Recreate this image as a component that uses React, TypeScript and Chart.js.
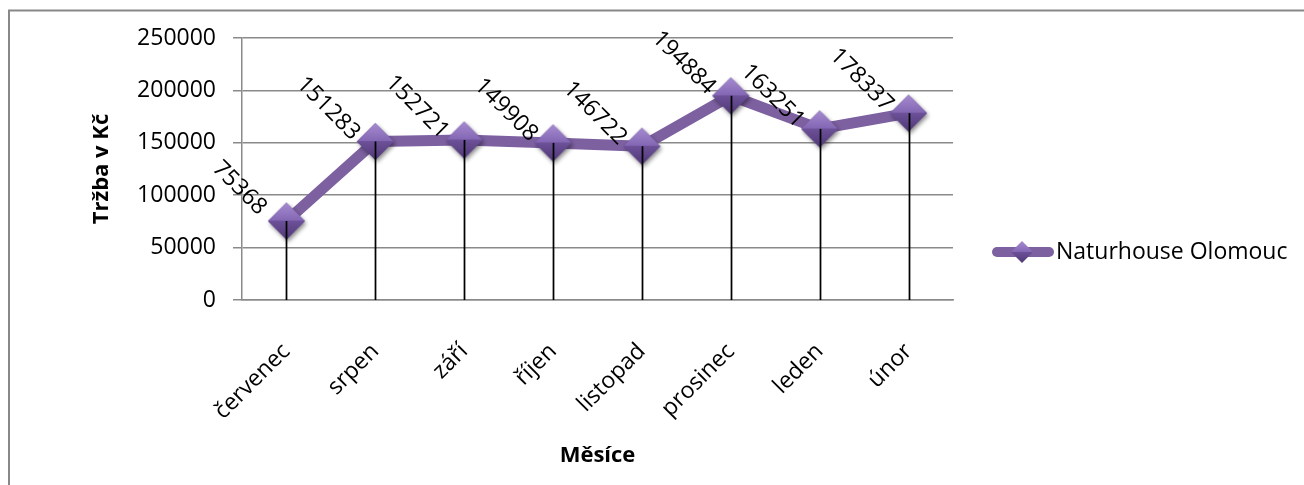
import { useEffect, useRef } from "react";
import { Chart, registerables } from "chart.js";

Chart.register(...registerables);

// Monthly revenue of the shop
const months = ["červenec", "srpen", "září", "říjen", "listopad", "prosinec", "leden", "únor"];
const revenue = [75368, 151283, 152721, 149908, 146722, 194884, 163251, 178337];
const revenueTicks = [0, 50000, 100000, 150000, 200000, 250000];
const seriesName = "Naturhouse Olomouc";
const yTitle = "Tržba v Kč";
const xTitle = "Měsíce";

const PURPLE = "#7D60A0";
const GRID = "#8a8a8a";
const FONT = "'Open Sans', sans-serif";

// Bevelled diamond marker, rendered once and used as the point style
function makeDiamond(r: number, shadow: boolean): HTMLCanvasElement {
  const pad = 6;
  const size = Math.ceil(2 * r + 2 * pad);
  const c = document.createElement("canvas");
  c.width = size;
  c.height = size;
  const g = c.getContext("2d")!;
  const cx = size / 2;
  const cy = size / 2;
  if (shadow) {
    g.save();
    g.shadowColor = "rgba(0,0,0,0.45)";
    g.shadowBlur = 4;
    g.shadowOffsetX = 1.5;
    g.shadowOffsetY = 2.5;
    g.beginPath();
    g.moveTo(cx, cy - r);
    g.lineTo(cx + r, cy);
    g.lineTo(cx, cy + r);
    g.lineTo(cx - r, cy);
    g.closePath();
    g.fillStyle = "#5b4282";
    g.fill();
    g.restore();
  }
  let grad = g.createLinearGradient(0, cy - r, 0, cy);
  grad.addColorStop(0, "#a68bd1");
  grad.addColorStop(1, "#8366b3");
  g.beginPath();
  g.moveTo(cx, cy - r);
  g.lineTo(cx + r, cy);
  g.lineTo(cx - r, cy);
  g.closePath();
  g.fillStyle = grad;
  g.fill();
  grad = g.createLinearGradient(0, cy, 0, cy + r);
  grad.addColorStop(0, "#6d5199");
  grad.addColorStop(1, "#503877");
  g.beginPath();
  g.moveTo(cx - r, cy);
  g.lineTo(cx + r, cy);
  g.lineTo(cx, cy + r);
  g.closePath();
  g.fillStyle = grad;
  g.fill();
  return c;
}

export default function App() {
  const ref = useRef<HTMLCanvasElement | null>(null);

  useEffect(() => {
    let chart: Chart | null = null;
    let cancelled = false;

    const build = () => {
      if (cancelled || !ref.current) return;
      const marker = makeDiamond(18.5, true);
      const legendMarker = makeDiamond(11, false);

      const decor = {
        id: "decor",
        beforeDraw(c: any) {
          const ctx = c.ctx;
          ctx.save();
          ctx.fillStyle = "#ffffff";
          ctx.fillRect(0, 0, c.width, c.height);
          ctx.strokeStyle = "#888888";
          ctx.lineWidth = 2;
          ctx.strokeRect(9, 10.5, c.width + 40, c.height + 40);
          ctx.restore();
        },
        afterDatasetsDraw(c: any) {
          const ctx = c.ctx;
          const meta = c.getDatasetMeta(0);
          const bottom = c.chartArea.bottom;
          ctx.save();
          // drop lines from each point down to the category axis
          ctx.strokeStyle = "#000000";
          ctx.lineWidth = 1.75;
          meta.data.forEach((p: any) => {
            ctx.beginPath();
            ctx.moveTo(Math.round(p.x) + 0.5, p.y);
            ctx.lineTo(Math.round(p.x) + 0.5, bottom);
            ctx.stroke();
          });
          // rotated value labels
          ctx.fillStyle = "#000000";
          ctx.font = `23px ${FONT}`;
          ctx.textAlign = "center";
          ctx.textBaseline = "middle";
          meta.data.forEach((p: any, i: number) => {
            ctx.save();
            ctx.translate(p.x - 47, p.y - 33);
            ctx.rotate(Math.PI / 4);
            ctx.fillText(String(revenue[i]), 0, 0);
            ctx.restore();
          });
          ctx.restore();
        },
        afterDraw(c: any) {
          const ctx = c.ctx;
          const ly = 252;
          ctx.save();
          ctx.strokeStyle = PURPLE;
          ctx.lineWidth = 10;
          ctx.lineCap = "round";
          ctx.beginPath();
          ctx.moveTo(997, ly);
          ctx.lineTo(1049, ly);
          ctx.stroke();
          ctx.drawImage(legendMarker, 1022 - legendMarker.width / 2, ly - legendMarker.height / 2);
          ctx.fillStyle = "#000000";
          ctx.font = `23px ${FONT}`;
          ctx.textAlign = "left";
          ctx.textBaseline = "middle";
          ctx.fillText(seriesName, 1056, ly);
          ctx.restore();
        },
      };

      chart = new Chart(ref.current, {
        type: "line",
        data: {
          labels: months,
          datasets: [
            {
              label: seriesName,
              data: revenue,
              borderColor: PURPLE,
              backgroundColor: PURPLE,
              borderWidth: 11,
              borderCapStyle: "round",
              borderJoinStyle: "round",
              pointStyle: marker as any,
              pointRadius: 18,
              pointHoverRadius: 18,
              tension: 0,
              fill: false,
            },
          ],
        },
        options: {
          responsive: false,
          animation: false,
          devicePixelRatio: 1,
          layout: { padding: { left: 0, top: 38, right: 351, bottom: 0 } },
          plugins: {
            legend: { display: false },
            tooltip: { enabled: false },
          },
          scales: {
            x: {
              type: "category",
              offset: true,
              grid: { display: false, drawTicks: false },
              border: { display: true, color: GRID, width: 1.5 },
              ticks: {
                font: { family: FONT, size: 23 },
                color: "#000000",
                minRotation: 45,
                maxRotation: 45,
                autoSkip: false,
                padding: 38,
              },
              title: {
                display: true,
                text: xTitle,
                font: { family: FONT, size: 22, weight: "bold" },
                color: "#000000",
                padding: { top: 0, bottom: 16 },
              },
              afterFit: (s: any) => {
                s.height = 185;
              },
            },
            y: {
              min: 0,
              max: 250000,
              grid: { color: GRID, lineWidth: 1.5, tickLength: 9, drawTicks: true },
              border: { display: true, color: GRID, width: 1.5 },
              ticks: {
                font: { family: FONT, size: 23 },
                color: "#000000",
                padding: 17,
                callback: (v: any) => String(v),
              },
              afterBuildTicks: (s: any) => {
                s.ticks = revenueTicks.map((v) => ({ value: v }));
              },
              title: {
                display: true,
                text: yTitle,
                font: { family: FONT, size: 22, weight: "bold" },
                color: "#000000",
                padding: { top: 89, bottom: 0 },
              },
              afterFit: (s: any) => {
                s.width = 242;
              },
            },
          },
        },
        plugins: [decor],
      } as any);
    };

    const fonts = (document as any).fonts;
    if (fonts && fonts.load) {
      Promise.all([
        fonts.load(`23px 'Open Sans'`),
        fonts.load(`bold 22px 'Open Sans'`),
      ])
        .catch(() => undefined)
        .then(build);
    } else {
      build();
    }

    return () => {
      cancelled = true;
      if (chart) chart.destroy();
    };
  }, []);

  return (
    <div style={{ position: "absolute", left: 0, top: 0, width: 1304, height: 485 }}>
      <canvas ref={ref} width={1304} height={485} style={{ display: "block" }} />
    </div>
  );
}
